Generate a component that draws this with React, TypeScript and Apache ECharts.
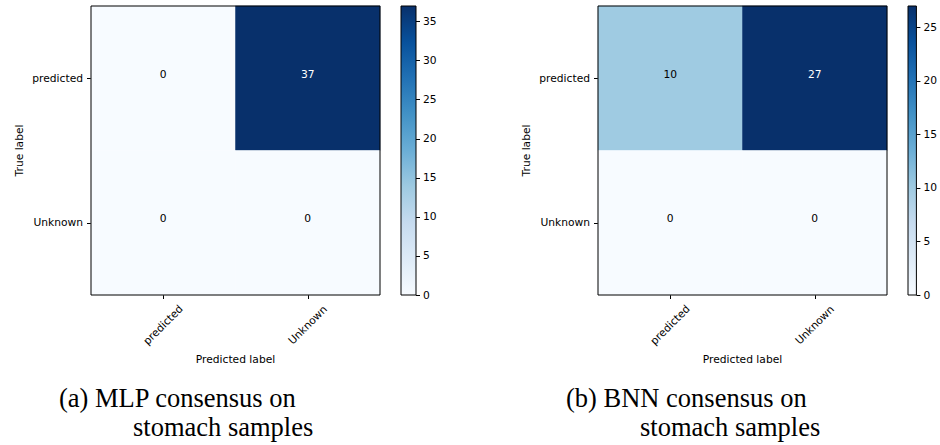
import React, { useEffect, useRef } from "react";
import * as echarts from "echarts";

const predictedCats = ["predicted", "Unknown"];
const trueCats = ["predicted", "Unknown"];
// rows = true label, cols = predicted label
const mlpMatrix = [
  [0, 37],
  [0, 0],
];
const bnnMatrix = [
  [10, 27],
  [0, 0],
];
const mlpMax = 37;
const bnnMax = 27;
const mlpBarTicks = [0, 5, 10, 15, 20, 25, 30, 35];
const bnnBarTicks = [0, 5, 10, 15, 20, 25];
const captionA = ["(a) MLP consensus on", "stomach samples"];
const captionB = ["(b) BNN consensus on", "stomach samples"];

const blues = [
  "#f7fbff",
  "#deebf7",
  "#c6dbef",
  "#9ecae1",
  "#6baed6",
  "#4292c6",
  "#2171b5",
  "#08519c",
  "#08306b",
];

const FONT = "DejaVu Sans";
const FS = 10.7;
const SERIF = "Liberation Serif";

function heatData(m: number[][], max: number) {
  const out: any[] = [];
  m.forEach((row, r) => {
    row.forEach((v, c) => {
      out.push({
        value: [c, r, v],
        label: { color: v > max / 2 ? "#ffffff" : "#000000" },
      });
    });
  });
  return out;
}

export default function App() {
  const ref = useRef<HTMLDivElement>(null);
  useEffect(() => {
    if (!ref.current) return;
    const chart = echarts.init(ref.current, undefined, { renderer: "svg" });

    const panels = [
      { left: 91, bar: 401, barW: 15, m: mlpMatrix, max: mlpMax, ticks: mlpBarTicks, cap: captionA, capX: 59 },
      { left: 598, bar: 908, barW: 14, m: bnnMatrix, max: bnnMax, ticks: bnnBarTicks, cap: captionB, capX: 566 },
    ];
    const top = 6;
    const size = 289;

    const grid: any[] = [];
    const xAxis: any[] = [];
    const yAxis: any[] = [];
    const series: any[] = [];
    const visualMap: any[] = [];
    const graphic: any[] = [];

    const gradient = new echarts.graphic.LinearGradient(
      0, 1, 0, 0,
      blues.map((c, i) => ({ offset: i / (blues.length - 1), color: c }))
    );

    panels.forEach((p) => {
      const gi = grid.length;
      grid.push({
        left: p.left, top, width: size, height: size,
        show: true, borderColor: "#000", borderWidth: 1, backgroundColor: "transparent", z: 10,
      });
      xAxis.push({
        type: "category", gridIndex: gi, data: predictedCats,
        axisLine: { show: false },
        axisTick: { show: true, alignWithLabel: true, length: 4, lineStyle: { color: "#000" } },
        axisLabel: {
          rotate: 45, align: "center", verticalAlign: "middle", margin: 30,
          fontFamily: FONT, fontSize: FS, color: "#000",
        },
        splitArea: { show: false }, splitLine: { show: false },
        name: "Predicted label", nameLocation: "middle", nameGap: 56,
        nameTextStyle: { fontFamily: FONT, fontSize: FS, color: "#000" },
      });
      yAxis.push({
        type: "category", gridIndex: gi, data: trueCats, inverse: true,
        axisLine: { show: false },
        axisTick: { show: true, alignWithLabel: true, length: 4, lineStyle: { color: "#000" } },
        axisLabel: { margin: 8, fontFamily: FONT, fontSize: FS, color: "#000" },
        splitArea: { show: false }, splitLine: { show: false },
        name: "True label", nameLocation: "middle", nameGap: 66,
        nameTextStyle: { fontFamily: FONT, fontSize: FS, color: "#000" },
      });
      const si = series.length;
      series.push({
        type: "heatmap", xAxisIndex: gi, yAxisIndex: gi,
        data: heatData(p.m, p.max),
        label: { show: true, fontFamily: FONT, fontSize: FS, offset: [0, -4], formatter: (d: any) => String(d.value[2]) },
        itemStyle: { borderWidth: 0 },
        emphasis: { disabled: true },
      });
      visualMap.push({
        type: "continuous", seriesIndex: si, min: 0, max: p.max,
        show: false, inRange: { color: blues },
      });
      // colorbar: full-height gradient bar on its own value axis
      const ci = grid.length;
      grid.push({
        left: p.bar, top, width: p.barW, height: size,
        show: true, borderColor: "#000", borderWidth: 1, backgroundColor: "transparent", z: 10,
      });
      xAxis.push({ type: "category", gridIndex: ci, show: false, data: ["bar"] });
      yAxis.push({
        type: "value", gridIndex: ci, position: "right", min: 0, max: p.max,
        axisLine: { show: false },
        axisTick: { show: true, length: 4, customValues: p.ticks, lineStyle: { color: "#000" } },
        axisLabel: { margin: 7, customValues: p.ticks, fontFamily: FONT, fontSize: FS, color: "#000" },
        splitLine: { show: false },
      });
      series.push({
        type: "bar", xAxisIndex: ci, yAxisIndex: ci,
        data: [p.max], barWidth: "100%", silent: true,
        itemStyle: { color: gradient },
      });
      p.cap.forEach((t, k) => {
        graphic.push({
          type: "text",
          left: k === 0 ? p.capX : p.capX + 74,
          top: k === 0 ? 384 : 413,
          style: { text: t, fontFamily: SERIF, fontSize: 26.5, fill: "#000" },
        });
      });
    });

    chart.setOption({
      animation: false,
      backgroundColor: "#fff",
      grid, xAxis, yAxis, series, visualMap, graphic,
    });
    return () => chart.dispose();
  }, []);
  return (
    <div
      ref={ref}
      style={{ position: "absolute", left: 0, top: 0, width: 940, height: 445 }}
    />
  );
}
